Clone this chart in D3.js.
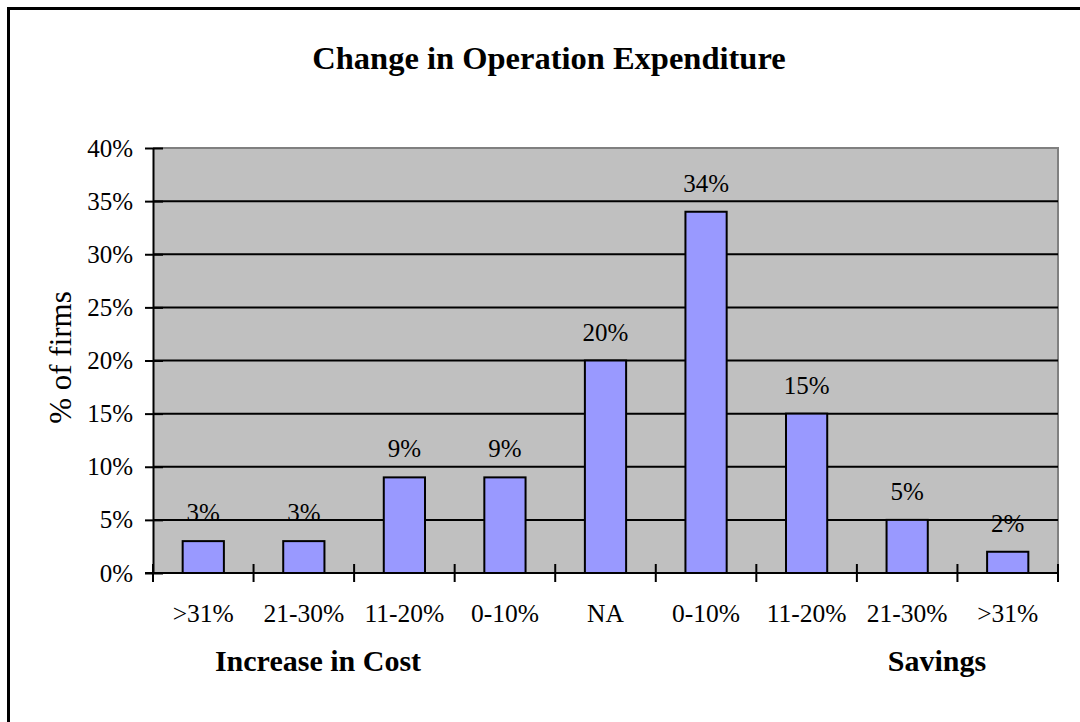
<!DOCTYPE html>
<html>
<head>
<meta charset="utf-8">
<script src="https://cdn.jsdelivr.net/npm/d3@7"></script>
<style>
  html, body { margin: 0; padding: 0; background: #fff; }
  svg { display: block; }
  text { font-family: "Liberation Serif", "Times New Roman", serif; fill: #000; }
</style>
</head>
<body>
<svg id="chart" width="1080" height="722"></svg>
<script>
// Survey results: share of firms by change in operation expenditure
const categories = [">31%", "21-30%", "11-20%", "0-10%", "NA", "0-10%", "11-20%", "21-30%", ">31%"];
const shares = [3, 3, 9, 9, 20, 34, 15, 5, 2];
const yTicks = [0, 5, 10, 15, 20, 25, 30, 35, 40];

const svg = d3.select("#chart");
const margin = { left: 153, right: 1058, top: 148, bottom: 573 };

// Outer chart frame (extends past the right and bottom edges)
svg.append("rect")
  .attr("x", 8.5).attr("y", 8.5)
  .attr("width", 1082).attr("height", 730)
  .attr("fill", "#fff").attr("stroke", "#000").attr("stroke-width", 3);

const idx = d3.range(categories.length);
const x = d3.scaleBand().domain(idx).range([margin.left, margin.right]).padding(0);
const y = d3.scaleLinear().domain([0, 40]).range([margin.bottom, margin.top]);

// Plot area
svg.append("rect")
  .attr("x", margin.left).attr("y", margin.top)
  .attr("width", margin.right - margin.left).attr("height", margin.bottom - margin.top)
  .attr("fill", "#c0c0c0");

// Grey border on top and right of plot area
svg.append("path")
  .attr("d", `M${margin.left},${margin.top}H${margin.right}V${margin.bottom}`)
  .attr("fill", "none").attr("stroke", "#808080").attr("stroke-width", 2);

// Horizontal gridlines
svg.append("g").selectAll("line")
  .data(yTicks.filter(t => t > 0 && t < 40))
  .join("line")
  .attr("x1", margin.left).attr("x2", margin.right)
  .attr("y1", d => y(d)).attr("y2", d => y(d))
  .attr("stroke", "#000").attr("stroke-width", 2);

// Bars: about 40% of each category slot, centred
const barW = x.bandwidth() * 0.41;
svg.append("g").selectAll("rect")
  .data(shares)
  .join("rect")
  .attr("x", (d, i) => x(i) + (x.bandwidth() - barW) / 2)
  .attr("y", d => y(d))
  .attr("width", barW)
  .attr("height", d => y(0) - y(d))
  .attr("fill", "#9999ff").attr("stroke", "#000").attr("stroke-width", 2);

// Value labels
svg.append("g").selectAll("text")
  .data(shares)
  .join("text")
  .attr("x", (d, i) => x(i) + x.bandwidth() / 2)
  .attr("y", d => y(d) - 20)
  .attr("text-anchor", "middle")
  .attr("font-size", 25)
  .text(d => d + "%");

// Y axis
const yAxis = svg.append("g").attr("transform", `translate(${margin.left},0)`)
  .call(d3.axisLeft(y).tickValues(yTicks).tickFormat(d => d + "%").tickSizeOuter(0).tickSizeInner(8).tickPadding(12));
yAxis.select(".domain").attr("stroke", "#000").attr("stroke-width", 2);
yAxis.selectAll(".tick line").attr("stroke", "#000").attr("stroke-width", 2).attr("x2", 10).attr("x1", -8);
yAxis.selectAll(".tick text").attr("font-size", 25)
  .attr("font-family", "Liberation Serif, serif").attr("fill", "#000");

// X axis with crossing tick marks at slot boundaries
const xAxis = svg.append("g").attr("transform", `translate(0,${margin.bottom})`);
xAxis.append("line")
  .attr("x1", margin.left - 8).attr("x2", margin.right)
  .attr("stroke", "#000").attr("stroke-width", 2);
xAxis.selectAll("line.tick")
  .data(d3.range(categories.length + 1))
  .join("line").attr("class", "tick")
  .attr("x1", d => d < categories.length ? x(d) : x(d - 1) + x.bandwidth())
  .attr("x2", d => d < categories.length ? x(d) : x(d - 1) + x.bandwidth())
  .attr("y1", -9).attr("y2", 9)
  .attr("stroke", "#000").attr("stroke-width", 2);
xAxis.selectAll("text")
  .data(categories)
  .join("text")
  .attr("x", (d, i) => x(i) + x.bandwidth() / 2)
  .attr("y", 49)
  .attr("text-anchor", "middle")
  .attr("font-size", 25.5)
  .text(d => d);

// Titles
svg.append("text")
  .attr("x", 549).attr("y", 69)
  .attr("text-anchor", "middle")
  .attr("font-size", 32.5).attr("font-weight", "bold")
  .text("Change in Operation Expenditure");

svg.append("text")
  .attr("transform", `translate(71,${(margin.top + margin.bottom) / 2 - 3}) rotate(-90)`)
  .attr("text-anchor", "middle")
  .attr("font-size", 31)
  .text("% of firms");

svg.append("text")
  .attr("x", 318).attr("y", 671)
  .attr("text-anchor", "middle")
  .attr("font-size", 30).attr("font-weight", "bold")
  .text("Increase in Cost");

svg.append("text")
  .attr("x", 937).attr("y", 671)
  .attr("text-anchor", "middle")
  .attr("font-size", 30).attr("font-weight", "bold")
  .text("Savings");
</script>
</body>
</html>
